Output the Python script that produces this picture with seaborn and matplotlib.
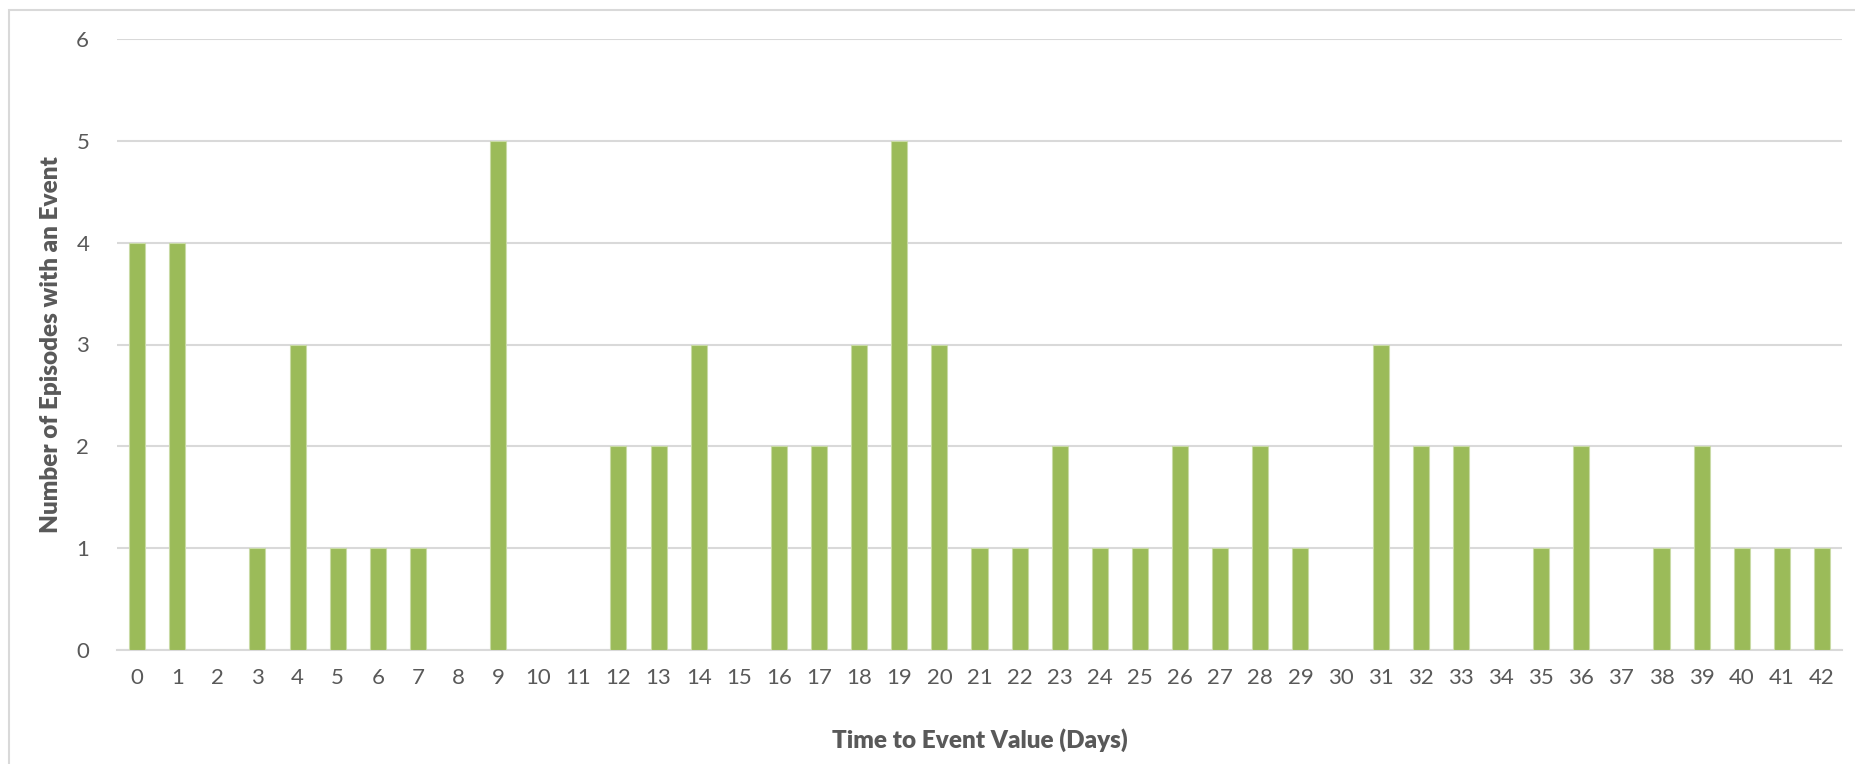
import numpy as np
import pandas as pd
import seaborn as sns
import matplotlib.pyplot as plt
from matplotlib.patches import Rectangle

days = list(range(43))
counts = [4, 4, 0, 1, 3, 1, 1, 1, 0, 5, 0, 0, 2, 2, 3, 0, 2, 2, 3, 5, 3,
          1, 1, 2, 1, 1, 2, 1, 2, 1, 0, 3, 2, 2, 0, 1, 2, 0, 1, 2, 1, 1, 1]
y_ticks = [0, 1, 2, 3, 4, 5, 6]

bar_color = "#9BBB59"
grid_color = "#D9D9D9"
text_color = "#595959"

sns.set_theme(style="white")
plt.rcParams['font.family'] = ['Lato', 'DejaVu Sans']

df = pd.DataFrame({"day": days, "count": counts})

fig = plt.figure(figsize=(18.55, 7.64), dpi=100)
ax = fig.add_axes([117 / 1855, 1 - 650 / 764, (1842 - 117) / 1855, (650 - 39) / 764])

sns.barplot(data=df, x="day", y="count", color=bar_color, width=0.4,
            edgecolor="#C9DBA6", linewidth=0.8, saturation=1, ax=ax, zorder=3)

ax.set_ylim(0, 6)
ax.set_yticks(y_ticks)
ax.set_xlim(-0.5, len(days) - 0.5)
ax.yaxis.grid(True, color=grid_color, linewidth=1.5, zorder=0)
ax.set_axisbelow(True)
for side in ["top", "right", "left"]:
    ax.spines[side].set_visible(False)
ax.spines["bottom"].set_color(grid_color)
ax.spines["bottom"].set_linewidth(1.5)
ax.tick_params(axis="both", length=0, labelsize=16, labelcolor=text_color)
ax.tick_params(axis="y", pad=20)
ax.tick_params(axis="x", pad=13)

ax.set_xlabel("Time to Event Value (Days)", fontsize=17.5, fontweight="heavy",
              color=text_color, labelpad=29)
ax.set_ylabel("Number of Episodes with an Event", fontsize=17.5, fontweight="heavy",
              color=text_color, labelpad=10)

# chart area border
fig.patches.append(Rectangle((8.5 / 1855, -0.05), 1.1, 1 - 10 / 764 + 0.05,
                             transform=fig.transFigure, fill=False,
                             edgecolor=grid_color, linewidth=1.5))

fig.savefig("out.png", dpi=100)
